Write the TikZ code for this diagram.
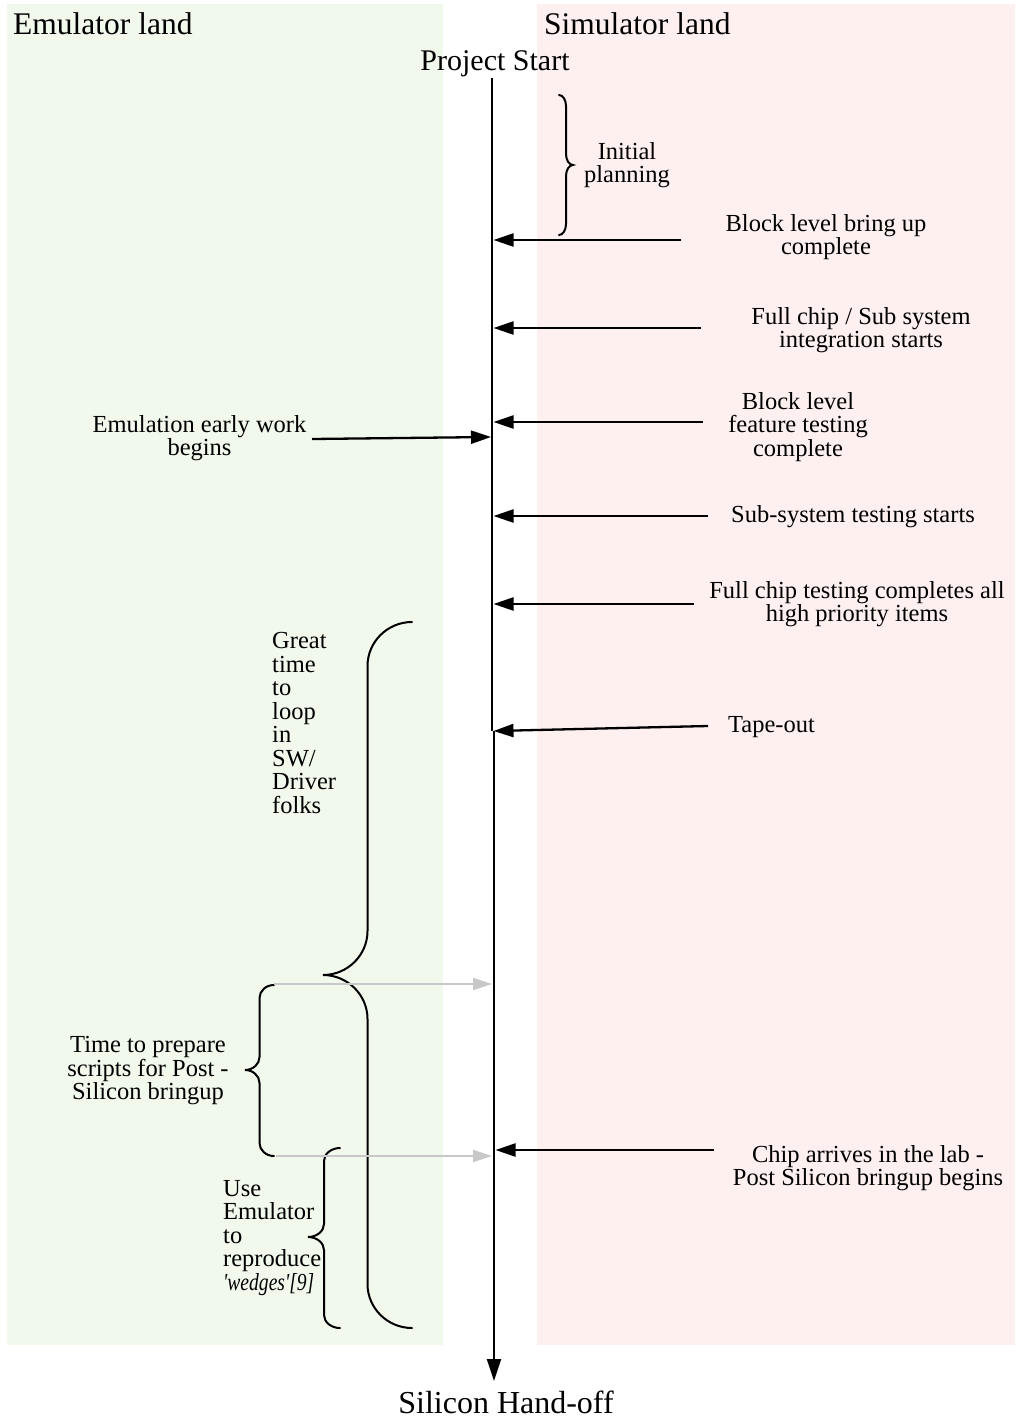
\documentclass[tikz,border=0pt]{standalone}
\usepackage{graphicx}
\usepackage{fontspec}
\setmainfont{Liberation Serif}
\usetikzlibrary{arrows.meta}

\definecolor{emubg}{RGB}{241,248,236}
\definecolor{simbg}{RGB}{253,240,238}
\definecolor{prepgray}{RGB}{200,200,200}

\tikzset{
  lbl/.style={inner sep=0pt, align=center, font=\fontsize{24.5}{23.5}\selectfont},
  lbll/.style={lbl, align=left, anchor=west},
  head/.style={inner sep=0pt, anchor=base west, font=\fontsize{31.5}{34}\selectfont},
  endlbl/.style={inner sep=0pt, anchor=base, font=\fontsize{30}{32}\selectfont},
  milestone/.style={line width=2.3pt, -{Triangle[length=20pt,width=13pt]}},
  prep/.style={draw=prepgray, line width=2pt, -{Triangle[length=19pt,width=12pt]}},
  timeline/.style={line width=2pt},
  curly/.style={line width=2pt, line cap=round},
}

% vertical curly brace: x of the ends, x of the tip, y top, y tip, y bottom, curl length
\newcommand{\curlybrace}[6]{%
  \pgfmathsetmacro{\cbmid}{(#1+#2)/2}
  \pgfmathsetmacro{\cbend}{#1+0.55*(\cbmid-#1)}
  \pgfmathsetmacro{\cbtip}{\cbmid+0.45*(#2-\cbmid)}
  \draw[curly] (#1,#3) .. controls (\cbend,#3) and (\cbmid,{#3+0.45*#6}) .. (\cbmid,{#3+#6})
    -- (\cbmid,{#4-#6}) .. controls (\cbmid,{#4-0.45*#6}) and (\cbtip,#4) .. (#2,#4)
    .. controls (\cbtip,#4) and (\cbmid,{#4+0.45*#6}) .. (\cbmid,{#4+#6})
    -- (\cbmid,{#5-#6}) .. controls (\cbmid,{#5-0.45*#6}) and (\cbend,#5) .. (#1,#5);
}

\begin{document}
\begin{tikzpicture}[x=1pt,y=-1pt]
\useasboundingbox (0,0) rectangle (1015,1418);

% the two lands
\fill[emubg] (7,4) rectangle (443,1345);
\fill[simbg] (537,4) rectangle (1015,1345);
\node[head] (emu) at (13,35) {Emulator land};
\node[head] (sim) at (544,35) {Simulator land};

% time line
\node[endlbl] (start) at (495,71) {Project Start};
\node[endlbl, font=\fontsize{32}{34}\selectfont] (handoff) at (506,1413) {Silicon Hand-off};
\coordinate (top) at (492,78);
\coordinate (kinkA) at (492,731);
\coordinate (kinkB) at (494,731);
\coordinate (bottom) at (494,1381);
\draw[timeline] (top) -- (kinkA);
\draw[timeline, -{Triangle[length=22pt,width=14pt]}] (kinkB) -- (bottom);

% braces
\curlybrace{559}{573}{95}{165}{235}{11}
\curlybrace{412}{323}{622}{975}{1328}{44}
\curlybrace{274}{245}{985}{1070}{1156}{13}
\curlybrace{340}{308}{1148}{1237}{1328}{13}

% simulator milestones
\node[lbl] (ip) at (627,165) {Initial\\planning};
\node[lbl] (bu) at (826,237) {Block level bring up\\complete};
\node[lbl] (fc) at (861,330) {Full chip / Sub system\\integration starts};
\node[lbl] (bl) at (798,427) {Block level\\feature testing\\complete};
\node[lbl] (ss) at (853,517) {Sub-system testing starts};
\node[lbl] (ft) at (857,604) {Full chip testing completes all\\high priority items};
\node[lbl, anchor=west] (to) at (728,727.5) {Tape-out};
\node[lbl] (ca) at (868,1168) {Chip arrives in the lab -\\Post Silicon bringup begins};

\coordinate (bu0) at (681,240);  \coordinate (bu1) at (493.5,240);
\coordinate (fc0) at (701,328);  \coordinate (fc1) at (493.5,328);
\coordinate (bl0) at (703,422);  \coordinate (bl1) at (493.5,422);
\coordinate (ss0) at (708,516);  \coordinate (ss1) at (493.5,516);
\coordinate (ft0) at (694,604);  \coordinate (ft1) at (493.5,604);
\coordinate (to0) at (708,726);  \coordinate (to1) at (493.5,731);
\coordinate (ca0) at (714,1150); \coordinate (ca1) at (495.5,1150);
\draw[milestone] (bu0) -- (bu1);
\draw[milestone] (fc0) -- (fc1);
\draw[milestone] (bl0) -- (bl1);
\draw[milestone] (ss0) -- (ss1);
\draw[milestone] (ft0) -- (ft1);
\draw[milestone] (to0) -- (to1);
\draw[milestone] (ca0) -- (ca1);

% emulator side
\node[lbl] (ee) at (199.5,438) {Emulation early work\\begins};
\coordinate (ee0) at (312,439); \coordinate (ee1) at (491,437);
\draw[milestone] (ee0) -- (ee1);

\node[lbll] (sw) at (272,723) {Great\\time\\to\\loop\\in\\SW/\\Driver\\folks};
\node[lbl] (prep) at (148,1071) {Time to prepare\\scripts for Post -\\Silicon bringup};
\node[lbll] (use) at (223,1238) {Use\\Emulator\\to\\reproduce\\\scalebox{0.8}[1]{\textit{\textquotesingle wedges\textquotesingle[9]}}};

\coordinate (pa0) at (274,984);  \coordinate (pa1) at (492,984);
\coordinate (pb0) at (276,1156); \coordinate (pb1) at (492,1156);
\draw[prep] (pa0) -- (pa1);
\draw[prep] (pb0) -- (pb1);
\end{tikzpicture}
\end{document}
